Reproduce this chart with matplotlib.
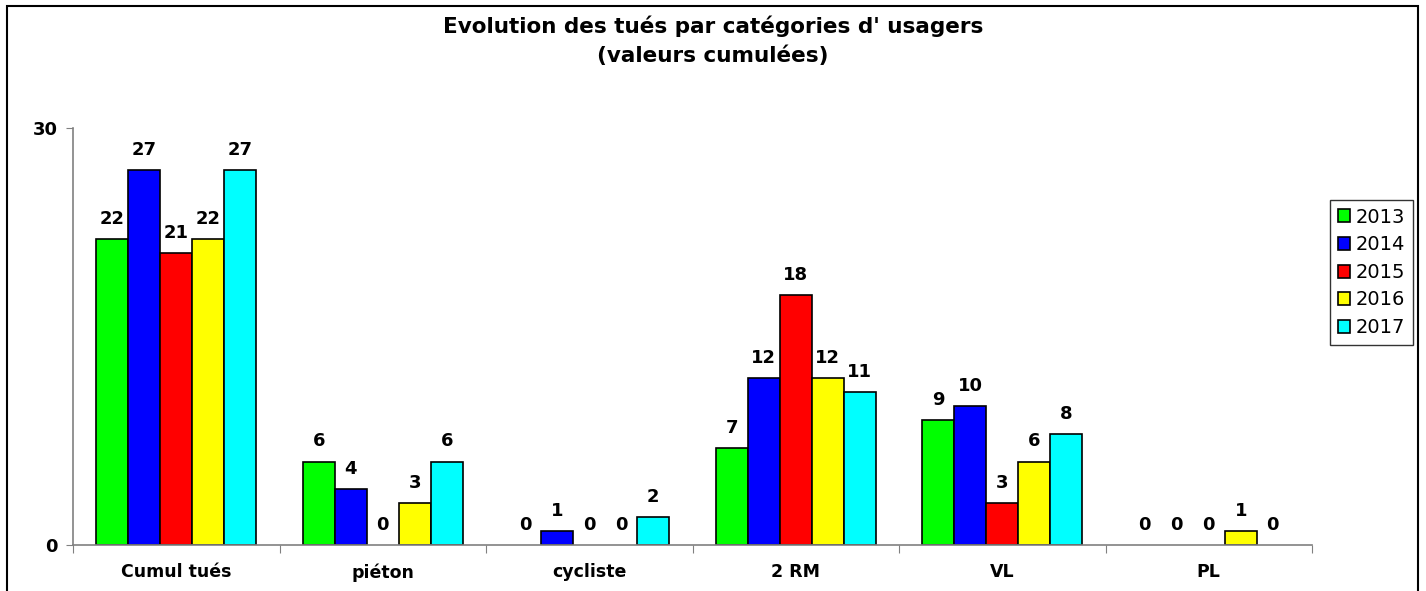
import matplotlib
matplotlib.use("Agg")
import matplotlib.pyplot as plt
from matplotlib.patches import Rectangle
import numpy as np

categories = ["Cumul tués", "piéton", "cycliste", "2 RM", "VL", "PL"]
years = ["2013", "2014", "2015", "2016", "2017"]
v2013 = [22, 6, 0, 7, 9, 0]
v2014 = [27, 4, 1, 12, 10, 0]
v2015 = [21, 0, 0, 18, 3, 0]
v2016 = [22, 3, 0, 12, 6, 1]
v2017 = [27, 6, 2, 11, 8, 0]
series = [v2013, v2014, v2015, v2016, v2017]
colors = ["#00ff00", "#0000ff", "#ff0000", "#ffff00", "#00ffff"]

plt.rcParams['font.family'] = ['DejaVu Sans']

fig = plt.figure(figsize=(14.26, 5.91), dpi=100)
ax = fig.add_axes([73/1426, 1-545/591, (1312-73)/1426, (545-128)/591])

x = np.arange(len(categories))
w = 0.155
for i, (vals, c, yr) in enumerate(zip(series, colors, years)):
    pos = x + (i - 2) * w
    lws = [1.2 if v > 0 else 0 for v in vals]
    ax.bar(pos, vals, width=w, color=c, edgecolor="black", linewidth=lws, label=yr)
    for p, v in zip(pos, vals):
        ax.annotate(str(v), (p, v), xytext=(0, 8), textcoords="offset points",
                    ha="center", va="bottom", fontsize=13, fontweight="bold")

ax.set_xlim(-0.5, len(categories) - 0.5)
ax.set_ylim(0, 30)
ax.set_yticks([0, 30])
ax.set_yticklabels(["0", "30"], fontsize=13, fontweight="bold")
ax.set_xticks(np.arange(len(categories) + 1) - 0.5)
ax.set_xticklabels([])
ax.set_xticks(x, minor=True)
ax.set_xticklabels(categories, minor=True, fontsize=12.5, fontweight="bold")
ax.tick_params(axis="x", which="minor", length=0, pad=13)
ax.tick_params(axis="x", which="major", length=6, color="#808080", direction="out")
ax.tick_params(axis="y", length=5, color="#808080", pad=6)
for s in ["top", "right"]:
    ax.spines[s].set_visible(False)
for s in ["left", "bottom"]:
    ax.spines[s].set_color("#808080")
    ax.spines[s].set_linewidth(1.2)

fig.text(0.5, 1-26/591, "Evolution des tués par catégories d' usagers", ha="center", va="center",
         fontsize=15.5, fontweight="bold")
fig.text(0.5, 1-56/591, "(valeurs cumulées)", ha="center", va="center",
         fontsize=15.5, fontweight="bold")

leg = fig.legend(loc="upper left", bbox_to_anchor=(1330/1426, 1-200/591), frameon=True,
                 fontsize=14, handlelength=0.65, handleheight=0.65, handletextpad=0.25,
                 labelspacing=0.44, borderpad=0.4, fancybox=False, borderaxespad=0)
leg.get_frame().set_edgecolor("black")
leg.get_frame().set_linewidth(1.0)

fig.patches.append(Rectangle((7/1426, -0.05), (1418-7)/1426, 1.05 - 6/591,
                             transform=fig.transFigure, fill=False, edgecolor="black",
                             linewidth=1.5))

fig.savefig("out.png", dpi=100)
